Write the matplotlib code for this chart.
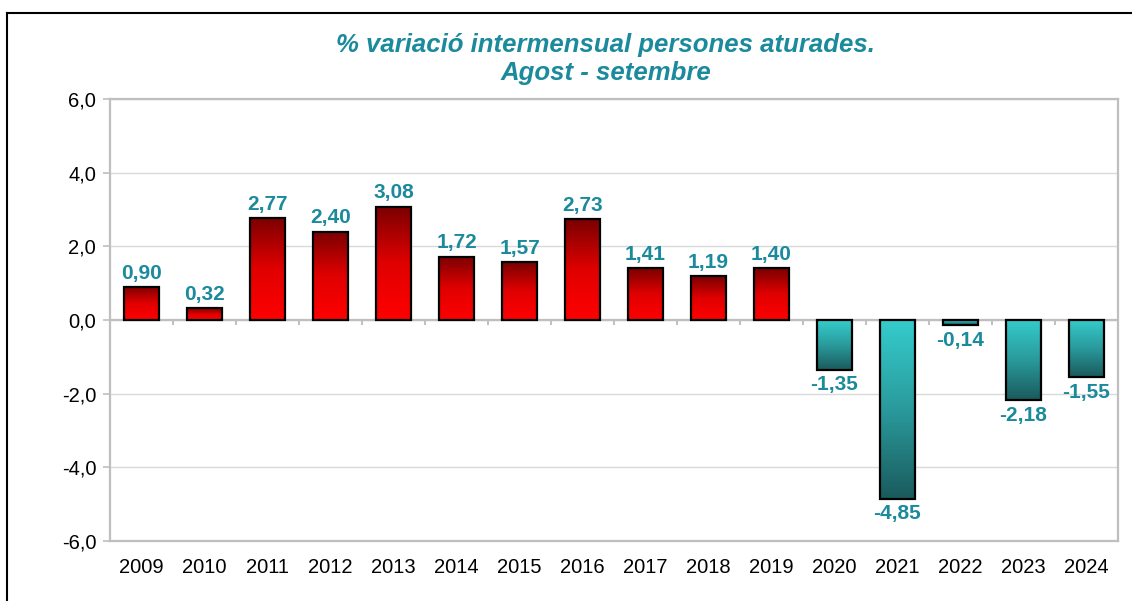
import numpy as np
import matplotlib.pyplot as plt
from matplotlib.colors import LinearSegmentedColormap
from matplotlib.lines import Line2D

years = ["2009", "2010", "2011", "2012", "2013", "2014", "2015", "2016",
         "2017", "2018", "2019", "2020", "2021", "2022", "2023", "2024"]
values = [0.90, 0.32, 2.77, 2.40, 3.08, 1.72, 1.57, 2.73,
          1.41, 1.19, 1.40, -1.35, -4.85, -0.14, -2.18, -1.55]

title = "% variació intermensual persones aturades.\nAgost - setembre"

teal = "#1a8a9c"
grid_gray = "#d9d9d9"
frame_gray = "#bfbfbf"

plt.rcParams["font.family"] = ["Liberation Sans", "DejaVu Sans"]

# gradients: value 0 = bottom of image, 1 = top
red_cmap = LinearSegmentedColormap.from_list("reds", ["#ff0000", "#e00000", "#7a0000"])
teal_cmap = LinearSegmentedColormap.from_list("teals", ["#1a5a5c", "#2a9a9c", "#35cccc"])

fig = plt.figure(figsize=(11.32, 6.01), dpi=100)
ax = fig.add_axes([0.0972, 0.0998, 0.8904, 0.7355])

x = np.arange(len(years))
bars = ax.bar(x, values, width=0.57, facecolor="none", edgecolor="black",
              linewidth=1.6, zorder=4)

grad = np.linspace(0, 1, 256).reshape(-1, 1)
for b, v in zip(bars, values):
    x0, y0 = b.get_x(), b.get_y()
    w, h = b.get_width(), b.get_height()
    cmap = red_cmap if v >= 0 else teal_cmap
    im = ax.imshow(grad, cmap=cmap, origin="lower", aspect="auto",
                   extent=[x0, x0 + w, min(y0, y0 + h), max(y0, y0 + h)],
                   zorder=3, interpolation="bilinear")
    im.set_clip_path(b)

    lab = f"{v:.2f}".replace(".", ",")
    if v >= 0:
        ax.annotate(lab, (x0 + w / 2, v), xytext=(0, 3), textcoords="offset points",
                    ha="center", va="bottom", fontsize=15, fontweight="bold",
                    color=teal, zorder=5)
    else:
        ax.annotate(lab, (x0 + w / 2, v), xytext=(0, -4), textcoords="offset points",
                    ha="center", va="top", fontsize=15, fontweight="bold",
                    color=teal, zorder=5)

ax.set_xlim(-0.5, len(years) - 0.5)
ax.set_ylim(-6, 6)
ax.set_yticks(np.arange(-6, 7, 2))
ax.set_yticklabels([f"{t:.1f}".replace(".", ",") for t in np.arange(-6, 7, 2)])
ax.set_xticks(x)
ax.set_xticklabels(years)
ax.tick_params(axis="x", length=0, pad=12, labelsize=14.5)
ax.tick_params(axis="y", length=5, width=1.2, color=frame_gray, direction="out",
               labelsize=14.5, pad=5)

ax.grid(axis="y", color=grid_gray, linewidth=1.0, zorder=0)
ax.set_axisbelow(True)
for s in ax.spines.values():
    s.set_color(frame_gray)
    s.set_linewidth(1.6)

# zero axis line with category-boundary ticks
ax.axhline(0, color=frame_gray, linewidth=1.6, zorder=2)
bounds = np.arange(0.5, len(years) - 0.5, 1.0)
ax.vlines(bounds, -0.13, 0, color=frame_gray, linewidth=1.4, zorder=2)

fig.text(0.535, 0.902, title, ha="center", va="center", fontsize=18.5,
         fontweight="bold", fontstyle="italic", color=teal, linespacing=1.17)

# outer chart frame (top and left edges visible)
fig.add_artist(Line2D([0.0062, 1.0], [0.978, 0.978], transform=fig.transFigure,
                      color="black", linewidth=1.5))
fig.add_artist(Line2D([0.0062, 0.0062], [0.0, 0.978], transform=fig.transFigure,
                      color="black", linewidth=1.5))

fig.savefig("out.png", dpi=100)
